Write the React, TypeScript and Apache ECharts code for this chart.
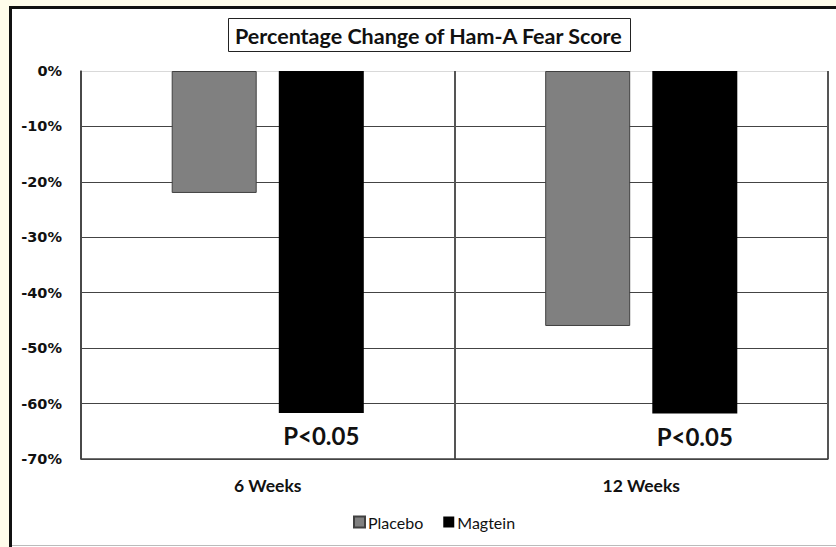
import React, { useEffect, useRef } from "react";
import * as echarts from "echarts";

const categories = ["6 Weeks", "12 Weeks"];
const placebo = [-22, -46];
const magtein = [-61.7, -61.8];
const pLabels = ["P<0.05", "P<0.05"];
const yTicks = [0, -10, -20, -30, -40, -50, -60, -70];

export default function App() {
  const ref = useRef<HTMLDivElement>(null);
  useEffect(() => {
    const chart = echarts.init(ref.current!, null, { renderer: "svg" });
    chart.setOption({
      animation: false,
      backgroundColor: "#FFFCEB",
      graphic: [
        {
          type: "rect",
          z: -10,
          shape: { x: 10.5, y: 7.5, width: 840, height: 560 },
          style: { fill: "#ffffff", stroke: "#111111", lineWidth: 3 },
        },
        {
          type: "line",
          z: -5,
          shape: { x1: 12, y1: 545.5, x2: 836, y2: 545.5 },
          style: { stroke: "#bbbbbb", lineWidth: 1 },
        },
      ],
      title: {
        text: "Percentage Change of Ham-A Fear Score",
        left: 228,
        top: 18,
        padding: [7, 7, 5, 7],
        borderColor: "#222",
        borderWidth: 1,
        backgroundColor: "#fff",
        textStyle: { fontFamily: "Lato", fontWeight: "bold", fontSize: 21.5, color: "#111" },
      },
      legend: {
        bottom: 12,
        left: 348,
        itemWidth: 11,
        itemHeight: 11,
        itemGap: 20,
        icon: "rect",
        textStyle: { fontFamily: "Lato", fontSize: 16, color: "#111", padding: [0, 0, 0, -2] },
        data: ["Placebo", "Magtein"],
      },
      grid: { left: 81, top: 71, right: 8, bottom: 88, containLabel: false },
      xAxis: {
        type: "category",
        data: categories,
        position: "bottom",
        axisLine: { show: true, onZero: false, lineStyle: { color: "#444", width: 1.5 } },
        axisTick: { show: false },
        splitLine: { show: true, interval: 0, lineStyle: { color: "#555", width: 2 } },
        axisLabel: {
          margin: 17,
          fontFamily: "Lato",
          fontWeight: "bold",
          fontSize: 17.5,
          color: "#111",
        },
      },
      yAxis: {
        type: "value",
        min: -70,
        max: 0,
        interval: 10,
        axisLine: { show: true, lineStyle: { color: "#444", width: 1.5 } },
        axisTick: { show: false },
        splitLine: {
          show: true,
          lineStyle: {
            color: ["#444", "#444", "#444", "#444", "#444", "#444", "#444", "#d9d9d9"],
            width: 1.2,
          },
        },
        axisLabel: {
          margin: 19,
          fontFamily: "DejaVu Sans",
          fontWeight: "bold",
          fontSize: 14.5,
          color: "#111",
          formatter: (v: number) => (yTicks.includes(v) ? v + "%" : ""),
        },
      },
      series: [
        {
          name: "Placebo",
          type: "bar",
          data: placebo,
          barWidth: 85,
          barGap: "26%",
          itemStyle: { color: "#808080", borderColor: "#404040", borderWidth: 1 },
        },
        {
          name: "Magtein",
          type: "bar",
          data: magtein,
          barWidth: 85,
          itemStyle: { color: "#000000", borderColor: "#000", borderWidth: 0 },
          label: {
            show: true,
            position: "bottom",
            distance: 11,
            formatter: (p: any) => pLabels[p.dataIndex],
            fontFamily: "Lato",
            fontWeight: "bold",
            fontSize: 24,
            color: "#111",
          },
        },
      ],
    });
    return () => chart.dispose();
  }, []);
  return (
    <div
      ref={ref}
      style={{ position: "fixed", left: 0, top: 0, width: 836, height: 547 }}
    />
  );
}
